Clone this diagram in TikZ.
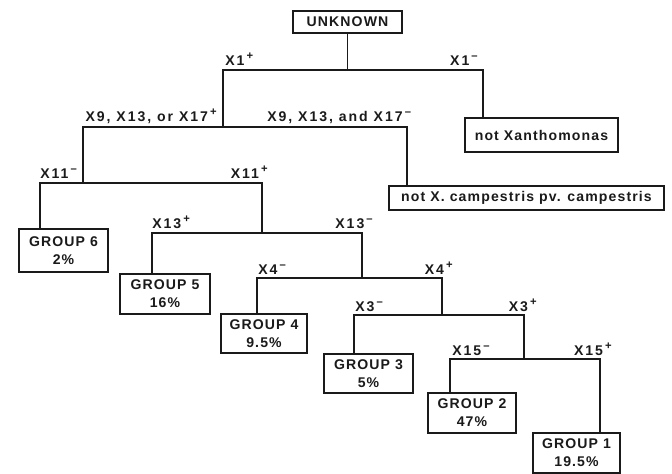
\documentclass[tikz,border=0pt]{standalone}
\usepackage{fontspec}
\usetikzlibrary{positioning}
\newfontfamily\keyfont{Liberation Sans}[LetterSpace=8]
\newfontfamily\tagfont{Liberation Sans}[LetterSpace=14]
\newcommand{\pl}{\hspace{1.5pt}\raisebox{3.6pt}{\fontsize{8}{8}\selectfont +}}
\newcommand{\mi}{\hspace{1.5pt}\raisebox{4.2pt}{\fontsize{8}{8}\selectfont –}}
\definecolor{Ink}{HTML}{1A1A1A}
\tikzset{
  grp/.style={draw=Ink,line width=1.3pt,inner sep=1pt,align=center,text=Ink,
    font=\keyfont\bfseries\fontsize{10}{12.8}\selectfont},
  lbl/.style={inner sep=0pt,text=Ink,font=\tagfont\bfseries\fontsize{10}{12}\selectfont}}

\begin{document}
\begin{tikzpicture}[x=0.025cm,y=-0.025cm,link/.style={draw=Ink,line width=.9pt}]
  \useasboundingbox (0,0) rectangle (672,474);
  \node[grp,minimum width=2.72cm,minimum height=.55cm] (unk) at (347.5,22) {UNKNOWN};
  \node[grp,minimum width=3.82cm,minimum height=.85cm] (nox) at (541.5,135) {not Xanthomonas};
  \node[grp,minimum width=6.87cm,minimum height=.6cm]  (nxc) at (526.5,198) {not X. campestris pv. campestris};
  \node[grp,minimum width=2.22cm,minimum height=1.07cm] (g6) at (63.5,250.5) {GROUP 6\\2\%};
  \node[grp,minimum width=2.25cm,minimum height=1.0cm]  (g5) at (165,294)    {GROUP 5\\16\%};
  \node[grp,minimum width=2.15cm,minimum height=.98cm]  (g4) at (264,333.5)  {GROUP 4\\9.5\%};
  \node[grp,minimum width=2.22cm,minimum height=.98cm]  (g3) at (368.5,373.5){GROUP 3\\5\%};
  \node[grp,minimum width=2.2cm,minimum height=1.0cm]   (g2) at (472,413)    {GROUP 2\\47\%};
  \node[grp,minimum width=2.18cm,minimum height=1.0cm]  (g1) at (576.5,453)  {GROUP 1\\19.5\%};
  \coordinate (s1) at (347.5,70);
  \coordinate (s2) at (223,127);
  \coordinate (s3) at (83,183);
  \coordinate (s4) at (262,233);
  \coordinate (s5) at (362,278);
  \coordinate (s6) at (442,315);
  \coordinate (s7) at (524,359);
  \coordinate (d1) at (483,0);
  \coordinate (d2) at (407,0);
  \coordinate (d3) at (40,0);
  \coordinate (d4) at (152,0);
  \coordinate (d5) at (257,0);
  \coordinate (d6) at (354,0);
  \coordinate (d7) at (450,0);
  \coordinate (d8) at (600,0);
  \draw[link] (unk.south) -- (s1);
  \draw[link] (s2) |- (s1) -| (nox.north -| d1);
  \draw[link] (s3) |- (s2) -| (nxc.north -| d2);
  \draw[link] (g6.north -| d3) |- (s3) -| (s4);
  \draw[link] (g5.north -| d4) |- (s4) -| (s5);
  \draw[link] (g4.north -| d5) |- (s5) -| (s6);
  \draw[link] (g3.north -| d6) |- (s6) -| (s7);
  \draw[link] (g2.north -| d7) |- (s7) -| (g1.north -| d8);
  \node[lbl,anchor=base west] (x1p)  at (225,65)  {X1\pl};
  \node[lbl,anchor=base east] (x1m)  at (478,65)  {X1\mi};
  \node[lbl,anchor=base east] (x9p)  at (217,121) {X9, X13, or X17\pl};
  \node[lbl,anchor=base west] (x9m)  at (267,121) {X9, X13, and X17\mi};
  \node[lbl,anchor=base west] (x11m) at (40,178)  {X11\mi};
  \node[lbl,anchor=base east] (x11p) at (268,178) {X11\pl};
  \node[lbl,anchor=base west] (x13p) at (152,228) {X13\pl};
  \node[lbl,anchor=base east] (x13m) at (373,228) {X13\mi};
  \node[lbl,anchor=base west] (x4m)  at (258,274) {X4\mi};
  \node[lbl,anchor=base east] (x4p)  at (453,274) {X4\pl};
  \node[lbl,anchor=base west] (x3m)  at (355,311) {X3\mi};
  \node[lbl,anchor=base east] (x3p)  at (537,311) {X3\pl};
  \node[lbl,anchor=base west] (x15m) at (452,355) {X15\mi};
  \node[lbl,anchor=base east] (x15p) at (612,355) {X15\pl};
\end{tikzpicture}
\end{document}
